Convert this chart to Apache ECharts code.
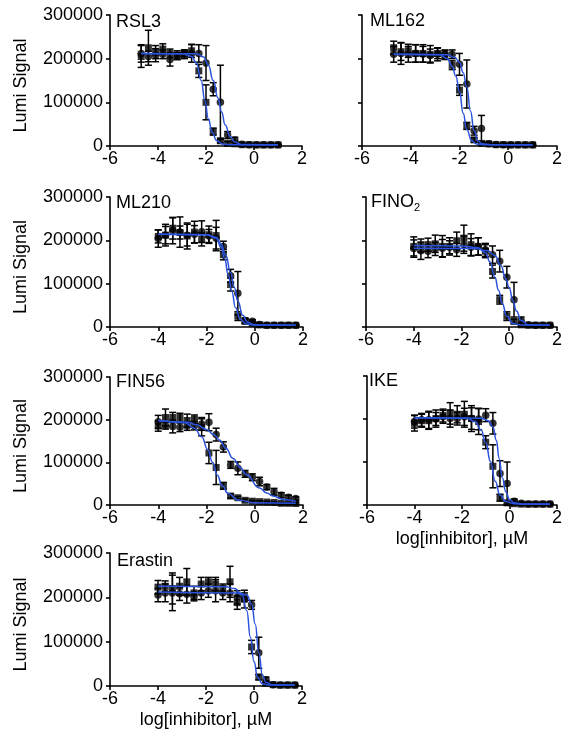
<!DOCTYPE html>
<html>
<head>
<meta charset="utf-8">
<script src="https://cdn.jsdelivr.net/npm/echarts@6/dist/echarts.min.js"></script>
<style>
  html, body { margin: 0; padding: 0; background: #fff; }
  #chart { width: 565px; height: 730px; }
</style>
</head>
<body>
<div id="chart"></div>
<script>
// doses (log uM), two dilution series
const doseA = [-4.7, -4.4, -4.1, -3.8, -3.5, -3.2, -2.9, -2.6, -2.3, -2.0, -1.7, -1.4, -1.1, -0.8, -0.5, -0.2, 0.1, 0.4, 0.7, 1.0];
const doseB = [-4.0, -3.7, -3.4, -3.1, -2.8, -2.5, -2.2, -1.9, -1.6, -1.3, -1.0, -0.7, -0.4, -0.1, 0.2, 0.5, 0.8, 1.1, 1.4, 1.7];

// RSL3
const rsl3Sq = [205000, 225000, 215000, 222000, 212000, 208000, 210000, 218000, 172000, 100000, 33000, 12000, 6000, 5000, 3000, 3000, 2500, 2500, 2500, 2500];
const rsl3SqErr = [25000, 40000, 15000, 12000, 10000, 10000, 10000, 15000, 15000, 40000, 8000, 5000, 4000, 3000, 2000, 1500, 1000, 1000, 1000, 1000];
const rsl3Ci = [212000, 205000, 208000, 210000, 198000, 206000, 212000, 212000, 212000, 190000, 130000, 100000, 25000, 14000, 4000, 3000, 3000, 3000, 3000, 3000];
const rsl3CiErr = [20000, 12000, 15000, 10000, 15000, 8000, 8000, 20000, 20000, 40000, 15000, 85000, 8000, 6000, 2000, 1000, 1000, 1000, 1000, 1000];
const rsl3SqFit = [[-4.7, 212000], [-3.0, 211000], [-2.6, 205000], [-2.4, 190000], [-2.2, 150000], [-2.05, 105000], [-1.9, 62000], [-1.75, 32000], [-1.55, 12000], [-1.3, 4500], [-0.9, 2700], [1.0, 2500]];
const rsl3CiFit = [[-4.7, 212000], [-2.4, 211000], [-2.1, 204000], [-1.9, 185000], [-1.7, 150000], [-1.5, 110000], [-1.35, 78000], [-1.2, 48000], [-1.0, 22000], [-0.8, 9000], [-0.5, 3500], [1.0, 3000]];

// ML162
const ml162Sq = [225000, 216000, 218000, 212000, 212000, 210000, 212000, 208000, 185000, 128000, 46000, 14000, 6000, 5000, 3000, 3000, 2500, 2500, 2500, 2500];
const ml162SqErr = [15000, 20000, 15000, 20000, 20000, 20000, 12000, 10000, 10000, 12000, 8000, 5000, 3000, 2000, 1500, 1000, 1000, 1000, 1000, 1000];
const ml162Ci = [210000, 212000, 210000, 212000, 210000, 207000, 210000, 210000, 210000, 187000, 142000, 35000, 40000, 5000, 3500, 3000, 3000, 3000, 3000, 3000];
const ml162CiErr = [18000, 25000, 18000, 20000, 18000, 15000, 15000, 10000, 10000, 25000, 55000, 10000, 30000, 3000, 1500, 1000, 1000, 1000, 1000, 1000];
const ml162SqFit = [[-4.7, 210000], [-2.8, 209000], [-2.5, 200000], [-2.3, 182000], [-2.15, 160000], [-2.0, 125000], [-1.85, 75000], [-1.7, 38000], [-1.5, 12000], [-1.3, 4500], [-1.0, 3000], [1.0, 2500]];
const ml162CiFit = [[-4.7, 210000], [-2.5, 209000], [-2.2, 203000], [-2.0, 192000], [-1.85, 168000], [-1.7, 135000], [-1.55, 80000], [-1.4, 35000], [-1.25, 12000], [-1.05, 4500], [-0.7, 3000], [1.0, 3000]];

// ML210
const ml210Sq = [209000, 212000, 228000, 218000, 210000, 219000, 202000, 213000, 211000, 167000, 98000, 25000, 13000, 8000, 5000, 4000, 4000, 4000, 4000, 4000];
const ml210SqErr = [15000, 20000, 25000, 15000, 30000, 25000, 15000, 20000, 35000, 12000, 15000, 10000, 5000, 3000, 2000, 1500, 1000, 1000, 1000, 1000];
const ml210Ci = [204000, 212000, 222000, 219000, 212000, 214000, 220000, 210000, 205000, 186000, 118000, 78000, 15000, 13000, 6000, 4000, 4000, 4000, 4000, 4000];
const ml210CiErr = [20000, 25000, 30000, 35000, 25000, 20000, 25000, 15000, 25000, 12000, 15000, 50000, 6000, 4000, 2000, 1500, 1000, 1000, 1000, 1000];
const ml210SqFit = [[-4.0, 214000], [-2.0, 213000], [-1.6, 205000], [-1.4, 185000], [-1.25, 158000], [-1.1, 120000], [-0.95, 82000], [-0.8, 45000], [-0.6, 18000], [-0.35, 7000], [0.0, 4500], [1.7, 4000]];
const ml210CiFit = [[-4.0, 214000], [-2.0, 213000], [-1.6, 207000], [-1.4, 192000], [-1.2, 165000], [-1.0, 125000], [-0.85, 92000], [-0.7, 60000], [-0.5, 27000], [-0.3, 11000], [0.0, 5000], [1.7, 4000]];

// FINO2
const fino2Sq = [186000, 188000, 190000, 192000, 186000, 186000, 199000, 205000, 190000, 186000, 175000, 128000, 63000, 25000, 13000, 5000, 4000, 4000, 4000, 4000];
const fino2SqErr = [22000, 15000, 15000, 20000, 25000, 20000, 20000, 30000, 25000, 20000, 15000, 15000, 10000, 10000, 5000, 3000, 1500, 1000, 1000, 1000];
const fino2Ci = [181000, 176000, 175000, 180000, 182000, 184000, 178000, 190000, 184000, 186000, 178000, 167000, 152000, 115000, 63000, 15000, 5000, 4000, 4000, 4000];
const fino2CiErr = [20000, 20000, 15000, 15000, 20000, 15000, 15000, 20000, 20000, 20000, 15000, 20000, 25000, 25000, 40000, 8000, 3000, 1000, 1000, 1000];
const fino2SqFit = [[-4.0, 188000], [-2.0, 187000], [-1.3, 183000], [-1.0, 172000], [-0.8, 150000], [-0.6, 115000], [-0.45, 85000], [-0.3, 55000], [-0.1, 25000], [0.15, 8000], [0.5, 4500], [1.7, 4000]];
const fino2CiFit = [[-4.0, 182000], [-1.5, 181000], [-0.9, 176000], [-0.6, 165000], [-0.35, 142000], [-0.15, 112000], [0.0, 90000], [0.15, 62000], [0.3, 37000], [0.5, 15000], [0.8, 5000], [1.7, 4000]];

// FIN56
const fin56Sq = [185000, 205000, 205000, 205000, 198000, 201000, 182000, 122000, 88000, 45000, 21000, 17000, 11000, 9000, 8000, 7000, 6000, 4000, 4000, 3500];
const fin56SqErr = [12000, 20000, 12000, 10000, 15000, 10000, 20000, 25000, 40000, 8000, 5000, 3000, 3000, 2000, 2000, 2000, 2000, 2000, 2000, 2000];
const fin56Ci = [195000, 186000, 184000, 182000, 185000, 186000, 190000, 194000, 165000, 136000, 94000, 86000, 73000, 65000, 55000, 42000, 31000, 23000, 18000, 15000];
const fin56CiErr = [15000, 8000, 15000, 10000, 10000, 10000, 15000, 20000, 15000, 12000, 8000, 15000, 8000, 8000, 10000, 6000, 8000, 6000, 5000, 4000];
const fin56SqFit = [[-4.0, 198000], [-2.9, 193000], [-2.5, 180000], [-2.2, 160000], [-1.95, 130000], [-1.75, 100000], [-1.55, 70000], [-1.35, 45000], [-1.1, 27000], [-0.7, 12000], [0.0, 5000], [1.7, 4000]];
const fin56CiFit = [[-4.0, 198000], [-2.8, 194000], [-2.4, 188000], [-2.0, 177000], [-1.7, 165000], [-1.45, 152000], [-1.2, 133000], [-0.9, 109000], [-0.6, 88000], [-0.35, 71000], [0.2, 40000], [0.5, 28000], [0.75, 21000], [1.2, 13000], [1.7, 9000]];

// IKE
const ikeSq = [190000, 196000, 196000, 201000, 208000, 213000, 211000, 211000, 201000, 194000, 146000, 90000, 17000, 5000, 3000, 2000, 2000, 2000, 2000, 2000];
const ikeSqErr = [18000, 15000, 20000, 20000, 15000, 25000, 20000, 30000, 30000, 30000, 15000, 50000, 8000, 3000, 1500, 1000, 1000, 1000, 1000, 1000];
const ikeCi = [194000, 198000, 198000, 200000, 205000, 201000, 201000, 205000, 201000, 200000, 209000, 190000, 73000, 50000, 9000, 4000, 2500, 2500, 2500, 2500];
const ikeCiErr = [15000, 15000, 20000, 15000, 15000, 20000, 15000, 20000, 25000, 25000, 15000, 25000, 30000, 50000, 5000, 2000, 1000, 1000, 1000, 1000];
const ikeSqFit = [[-4.0, 203000], [-1.8, 202000], [-1.45, 194000], [-1.2, 175000], [-1.0, 145000], [-0.8, 101000], [-0.6, 55000], [-0.4, 23000], [-0.15, 8000], [0.2, 3000], [0.6, 2000], [1.7, 2000]];
const ikeCiFit = [[-4.0, 203000], [-1.2, 202000], [-0.9, 196000], [-0.7, 182000], [-0.55, 150000], [-0.44, 109000], [-0.3, 63000], [-0.15, 30000], [0.0, 13000], [0.2, 5000], [0.6, 2500], [1.7, 2500]];

// Erastin
const erastinSq = [223000, 225000, 220000, 225000, 235000, 210000, 230000, 235000, 230000, 220000, 235000, 188000, 200000, 88000, 20000, 6000, 3000, 2000, 2000, 2000];
const erastinSqErr = [15000, 12000, 35000, 20000, 30000, 15000, 15000, 10000, 15000, 10000, 35000, 15000, 10000, 15000, 6000, 3000, 1500, 1000, 1000, 1000];
const erastinCi = [205000, 210000, 210000, 208000, 207000, 202000, 210000, 215000, 215000, 210000, 210000, 200000, 196000, 183000, 75000, 14000, 3000, 2000, 2000, 2000];
const erastinCiErr = [15000, 20000, 40000, 15000, 20000, 10000, 15000, 15000, 25000, 15000, 20000, 15000, 20000, 10000, 35000, 6000, 2000, 1000, 1000, 1000];
const erastinSqFit = [[-4.0, 225000], [-1.2, 224000], [-0.8, 220000], [-0.5, 205000], [-0.3, 170000], [-0.15, 110000], [0.0, 55000], [0.15, 20000], [0.35, 5000], [0.6, 2200], [1.7, 2000]];
const erastinCiFit = [[-4.0, 212000], [-0.6, 210000], [-0.3, 205000], [-0.1, 185000], [0.05, 140000], [0.2, 75000], [0.35, 25000], [0.5, 8000], [0.75, 2500], [1.7, 2000]];

const xName = 'log[inhibitor], µM';
const yName = 'Lumi Signal';

const panels = [
  { name: 'RSL3', dose: doseA, sq: rsl3Sq, sqErr: rsl3SqErr, ci: rsl3Ci, ciErr: rsl3CiErr, sqFit: rsl3SqFit, ciFit: rsl3CiFit },
  { name: 'ML162', dose: doseA, sq: ml162Sq, sqErr: ml162SqErr, ci: ml162Ci, ciErr: ml162CiErr, sqFit: ml162SqFit, ciFit: ml162CiFit },
  { name: 'ML210', dose: doseB, sq: ml210Sq, sqErr: ml210SqErr, ci: ml210Ci, ciErr: ml210CiErr, sqFit: ml210SqFit, ciFit: ml210CiFit },
  { name: '{a|FINO}{b|2}', dose: doseB, sq: fino2Sq, sqErr: fino2SqErr, ci: fino2Ci, ciErr: fino2CiErr, sqFit: fino2SqFit, ciFit: fino2CiFit },
  { name: 'FIN56', dose: doseB, sq: fin56Sq, sqErr: fin56SqErr, ci: fin56Ci, ciErr: fin56CiErr, sqFit: fin56SqFit, ciFit: fin56CiFit },
  { name: 'IKE', dose: doseB, sq: ikeSq, sqErr: ikeSqErr, ci: ikeCi, ciErr: ikeCiErr, sqFit: ikeSqFit, ciFit: ikeCiFit },
  { name: 'Erastin', dose: doseB, sq: erastinSq, sqErr: erastinSqErr, ci: erastinCi, ciErr: erastinCiErr, sqFit: erastinSqFit, ciFit: erastinCiFit },
];

// layout (px) of each plot box
const boxes = [
  { left: 110, top: 15, width: 192, height: 131 },
  { left: 362, top: 15, width: 196, height: 131 },
  { left: 110, top: 197, width: 193, height: 130 },
  { left: 366, top: 197, width: 192, height: 130 },
  { left: 110, top: 377, width: 193, height: 128 },
  { left: 367, top: 376, width: 191, height: 129 },
  { left: 110, top: 553, width: 192, height: 133 },
];
const titlePos = [[116, 13], [370, 12], [116, 194], [371, 193], [116, 373], [369, 372], [117, 552]];

const FONT = '"Liberation Sans", Arial, Helvetica, sans-serif';
const FS = 18;
const BLUE = '#2a52dc';

function errorBars(params, api) {
  const x = api.value(0);
  const y = api.value(1);
  const e = api.value(2);
  const hi = api.coord([x, y + e]);
  const lo = api.coord([x, Math.max(0, y - e)]);
  const w = 3.5;
  const st = { stroke: '#000', lineWidth: 1.5 };
  return {
    type: 'group',
    children: [
      { type: 'line', shape: { x1: hi[0], y1: hi[1], x2: lo[0], y2: lo[1] }, style: st },
      { type: 'line', shape: { x1: hi[0] - w, y1: hi[1], x2: hi[0] + w, y2: hi[1] }, style: st },
      { type: 'line', shape: { x1: lo[0] - w, y1: lo[1], x2: lo[0] + w, y2: lo[1] }, style: st },
    ],
  };
}

const grid = [];
const xAxis = [];
const yAxis = [];
const series = [];
const graphic = [];

panels.forEach((p, i) => {
  const leftCol = i % 2 === 0;
  grid.push(Object.assign({ containLabel: false }, boxes[i]));

  xAxis.push({
    gridIndex: i,
    type: 'value',
    min: -6,
    max: 2,
    interval: 2,
    name: i === 5 || i === 6 ? xName : '',
    nameLocation: 'middle',
    nameGap: 25,
    nameTextStyle: { fontSize: FS, color: '#000', fontFamily: FONT },
    axisLine: { onZero: false, lineStyle: { color: '#000', width: 1.6 } },
    axisTick: { length: 4, lineStyle: { color: '#000', width: 1.6 } },
    axisLabel: { fontSize: FS, color: '#000', margin: 4, fontFamily: FONT },
    splitLine: { show: false },
  });

  yAxis.push({
    gridIndex: i,
    type: 'value',
    min: 0,
    max: 300000,
    interval: 100000,
    name: leftCol ? yName : '',
    nameLocation: 'middle',
    nameGap: 80,
    nameTextStyle: { fontSize: FS, color: '#000', fontFamily: FONT, padding: [0, 10, 0, 0] },
    axisLine: { show: true, onZero: false, lineStyle: { color: '#000', width: 1.6 } },
    axisTick: { show: true, length: 4, lineStyle: { color: '#000', width: 1.6 } },
    axisLabel: { show: leftCol, fontSize: FS, color: '#000', margin: 7, fontFamily: FONT, formatter: (v) => String(v) },
    splitLine: { show: false },
  });

  // error bars
  [[p.sq, p.sqErr], [p.ci, p.ciErr]].forEach(([m, err]) => {
    series.push({
      type: 'custom',
      xAxisIndex: i,
      yAxisIndex: i,
      renderItem: errorBars,
      encode: { x: 0, y: 1 },
      data: p.dose.map((d, k) => [d, m[k], err[k]]),
      z: 2,
      silent: true,
    });
  });

  // points
  series.push({
    type: 'scatter',
    xAxisIndex: i,
    yAxisIndex: i,
    symbol: 'rect',
    symbolSize: 7,
    itemStyle: { color: '#000' },
    data: p.dose.map((d, k) => [d, p.sq[k]]),
    z: 3,
  });
  series.push({
    type: 'scatter',
    xAxisIndex: i,
    yAxisIndex: i,
    symbol: 'circle',
    symbolSize: 7.5,
    itemStyle: { color: '#000' },
    data: p.dose.map((d, k) => [d, p.ci[k]]),
    z: 3,
  });

  // fitted curves
  [p.sqFit, p.ciFit].forEach((fit) => {
    series.push({
      type: 'line',
      xAxisIndex: i,
      yAxisIndex: i,
      data: fit,
      showSymbol: false,
      smooth: 0.5,
      smoothMonotone: 'x',
      lineStyle: { color: BLUE, width: 1.5 },
      z: 4,
      silent: true,
    });
  });

  graphic.push({
    type: 'text',
    left: titlePos[i][0],
    top: titlePos[i][1],
    style: {
      text: p.name,
      fill: '#000',
      font: FS + 'px ' + FONT,
      rich: {
        a: { fontSize: FS, fontFamily: FONT, lineHeight: 20, fill: '#000' },
        b: { fontSize: 11, fontFamily: FONT, lineHeight: 22, verticalAlign: 'bottom', fill: '#000' },
      },
    },
  });
});

const myChart = echarts.init(document.getElementById('chart'), null, { renderer: 'canvas' });
myChart.setOption({
  animation: false,
  backgroundColor: '#fff',
  grid: grid,
  xAxis: xAxis,
  yAxis: yAxis,
  series: series,
  graphic: graphic,
});
</script>
</body>
</html>
